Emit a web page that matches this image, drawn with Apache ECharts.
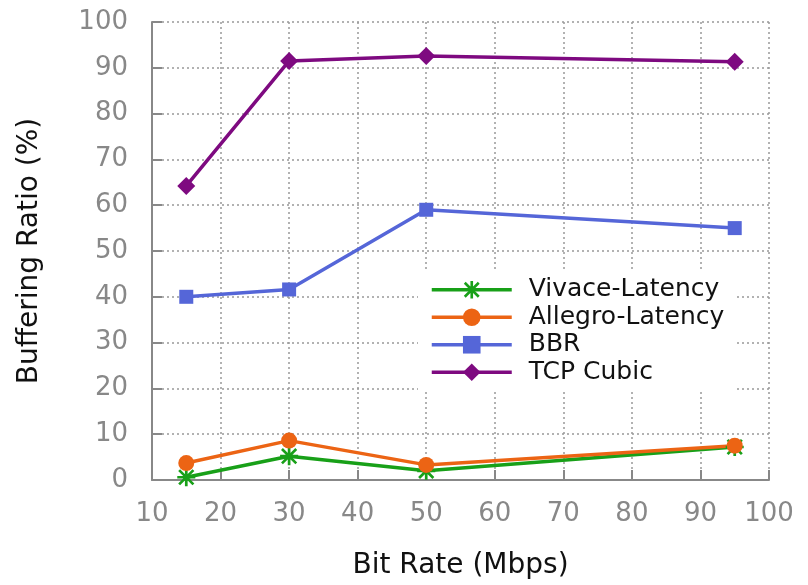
<!DOCTYPE html>
<html><head><meta charset="utf-8">
<script src="https://cdn.jsdelivr.net/npm/echarts@6/dist/echarts.min.js"></script>
<style>html,body{margin:0;padding:0;background:#fff}#c{width:808px;height:585px}</style>
</head><body><div id="c"></div>
<script>
const bitRates = [15, 30, 50, 95];
const vivaceLatency = [0.6, 5.2, 2.0, 7.2];
const allegroLatency = [3.7, 8.6, 3.3, 7.5];
const bbr = [40.0, 41.6, 59.0, 55.0];
const tcpCubic = [64.2, 91.5, 92.6, 91.3];
const seriesNames = ['Vivace-Latency', 'Allegro-Latency', 'BBR', 'TCP Cubic'];
const xTicks = [10, 20, 30, 40, 50, 60, 70, 80, 90, 100];
const yTicks = [0, 10, 20, 30, 40, 50, 60, 70, 80, 90, 100];

const asterisk = 'path://M0 8.5L20 8.5L20 11.5L0 11.5Z M8.5 0L11.5 0L11.5 20L8.5 20Z M3.1 1L19 16.9L16.9 19L1 3.1Z M16.9 1L19 3.1L3.1 19L1 16.9Z';
const FONT = 'DejaVu Sans';
const pairs = ys => bitRates.map((x, i) => [x, ys[i]]);

const mk = (name, ys, color, symbol, size) => ({
  name, type: 'line', data: pairs(ys), symbol, symbolSize: size,
  lineStyle: { color, width: 3.5 }, itemStyle: { color },
  emphasis: { disabled: true }, animation: false
});

const chart = echarts.init(document.getElementById('c'), null, { renderer: 'canvas' });
chart.setOption({
  backgroundColor: '#fff',
  textStyle: { fontFamily: FONT },
  grid: { left: 152, right: 39, top: 22, bottom: 104 },
  xAxis: {
    type: 'value', min: xTicks[0], max: xTicks[xTicks.length - 1], interval: 10,
    name: 'Bit Rate (Mbps)', nameLocation: 'middle', nameGap: 72,
    nameTextStyle: { fontFamily: FONT, fontSize: 28, color: '#111' },
    axisLine: { show: true, lineStyle: { color: '#888', width: 2 } },
    axisTick: { show: true, inside: true, length: 10, lineStyle: { color: '#888', width: 2 } },
    axisLabel: { fontFamily: FONT, fontSize: 26, color: '#888', margin: 21 },
    splitLine: { show: true, lineStyle: { color: '#999', width: 1.5, type: [2, 3] } }
  },
  yAxis: {
    type: 'value', min: yTicks[0], max: yTicks[yTicks.length - 1], interval: 10,
    name: 'Buffering Ratio (%)', nameLocation: 'middle', nameGap: 108, nameRotate: 90,
    nameTextStyle: { fontFamily: FONT, fontSize: 28, color: '#111' },
    axisLine: { show: true, lineStyle: { color: '#888', width: 2 } },
    axisTick: { show: true, inside: true, length: 10, lineStyle: { color: '#888', width: 2 } },
    axisLabel: { fontFamily: FONT, fontSize: 26, color: '#888', margin: 24 },
    splitLine: { show: true, lineStyle: { color: '#999', width: 1.5, type: [2, 3] } }
  },
  legend: {
    orient: 'vertical', left: 418, top: 272,
    backgroundColor: '#fff', padding: [4, 10, 4, 12],
    itemWidth: 80, itemHeight: 22, itemGap: 0,
    lineStyle: { width: 3.5 },
    textStyle: { fontFamily: FONT, fontSize: 25, color: '#111', lineHeight: 27.5, padding: [0, 0, 0, 12] },
    data: seriesNames
  },
  series: [
    mk(seriesNames[0], vivaceLatency, '#18a018', asterisk, 18),
    mk(seriesNames[1], allegroLatency, '#ec6414', 'circle', 16),
    mk(seriesNames[2], bbr, '#5566d8', 'rect', 14),
    mk(seriesNames[3], tcpCubic, '#7e0a80', 'diamond', 18)
  ]
});
</script></body></html>
